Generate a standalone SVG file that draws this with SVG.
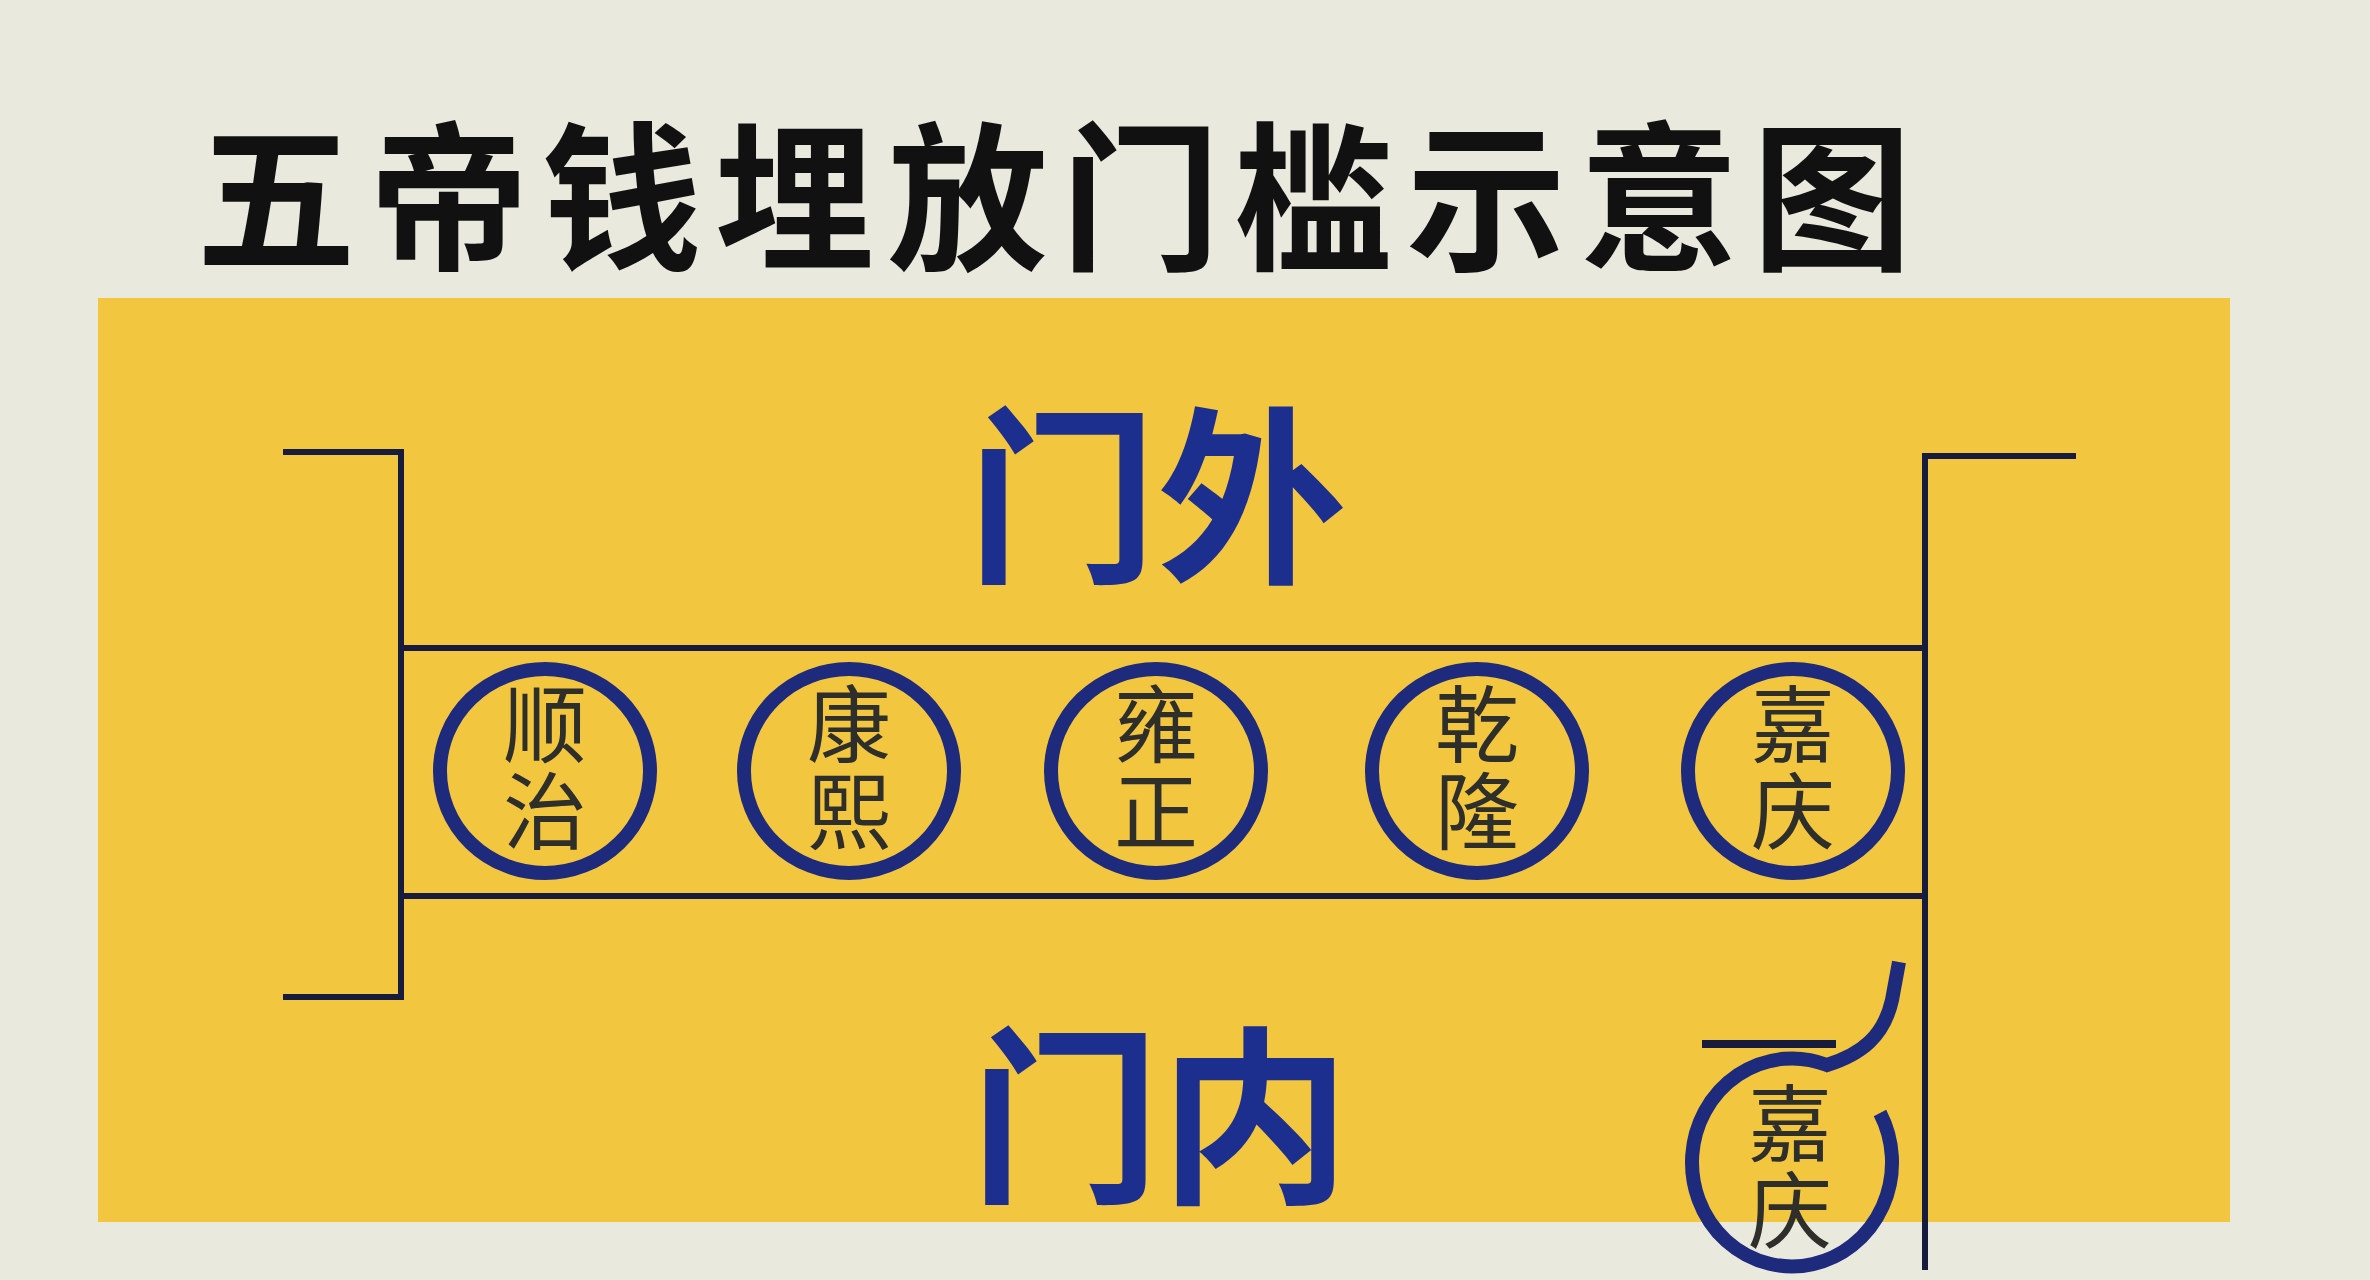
<svg xmlns="http://www.w3.org/2000/svg" width="2370" height="1280" viewBox="0 0 2370 1280">
<style>
.line{fill:none;stroke:#171c3e;stroke-width:6;stroke-linecap:butt}
.ring{fill:none;stroke:#1e2b7c;stroke-width:14}
.coin{font-family:"Noto Sans CJK SC","Noto Sans",sans-serif;font-size:84px;fill:#2e2e2a;text-anchor:middle;writing-mode:vertical-rl;letter-spacing:3px}
.big{font-family:"Noto Sans CJK SC",sans-serif;font-size:190px;font-weight:700;fill:#1d2f8e;text-anchor:middle}
.title{font-family:"Noto Sans CJK SC",sans-serif;font-size:160px;font-weight:700;fill:#111111}
</style>
<rect x="0" y="0" width="2370" height="1280" fill="#eae9de"/>
<rect x="98" y="298" width="2132" height="924" fill="#f3c640"/>
<g id="title"><text class="title" x="196" y="258" textLength="1716" lengthAdjust="spacing">五帝钱埋放门槛示意图</text></g>
<g id="label-outside"><text class="big" x="1157" y="568">门外</text></g>
<g id="label-inside"><text class="big" x="1160" y="1188">门内</text></g>
<g id="connectors">
<path class="line" d="M283 452 H401 V997 H283"/>
<path class="line" d="M401 648 H1925 M401 896 H1925"/>
<path class="line" d="M2076 456 H1925 V1270"/>
<path class="line" d="M1702 1044 H1836" style="stroke-width:8"/>
</g>
<g id="shunzhi"><ellipse class="ring" cx="545" cy="771" rx="105" ry="102"/><text class="coin" x="545" y="769">顺治</text></g>
<g id="kangxi"><ellipse class="ring" cx="849" cy="771" rx="105" ry="102"/><text class="coin" x="849" y="769">康熙</text></g>
<g id="yongzheng"><ellipse class="ring" cx="1156" cy="771" rx="105" ry="102"/><text class="coin" x="1156" y="769">雍正</text></g>
<g id="qianlong"><ellipse class="ring" cx="1477" cy="771" rx="105" ry="102"/><text class="coin" x="1477" y="769">乾隆</text></g>
<g id="jiaqing"><ellipse class="ring" cx="1793" cy="771" rx="105" ry="102"/><text class="coin" x="1793" y="769">嘉庆</text></g>
<g id="jiaqing-buried">
<path class="ring" d="M1880 1113 A100 104 0 1 1 1827 1065 C1862 1054 1884 1036 1892 1000 L1899 962"/>
<text class="coin" x="1790" y="1168">嘉庆</text>
</g>
</svg>
